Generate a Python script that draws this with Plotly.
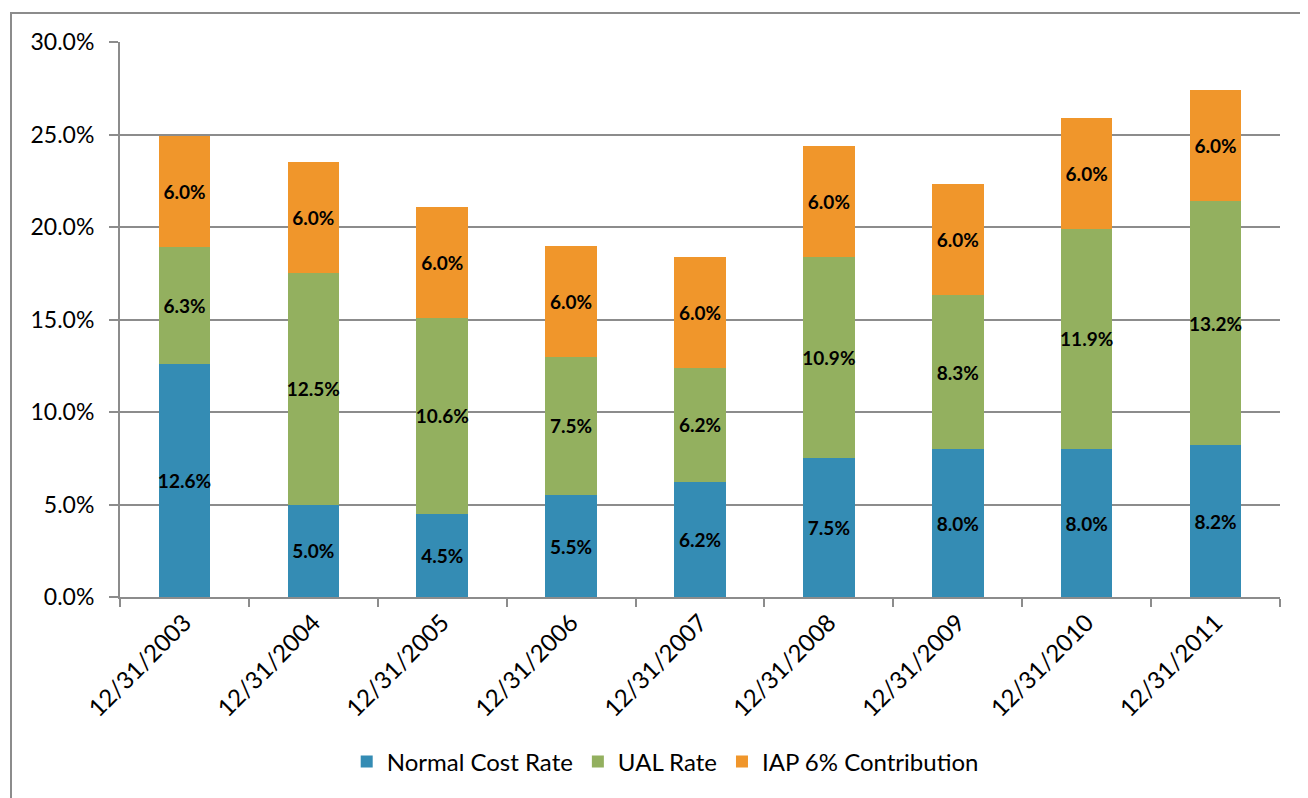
import plotly.graph_objects as go

categories = ["12/31/2003", "12/31/2004", "12/31/2005", "12/31/2006", "12/31/2007",
              "12/31/2008", "12/31/2009", "12/31/2010", "12/31/2011"]
normal_cost = [12.6, 5.0, 4.5, 5.5, 6.2, 7.5, 8.0, 8.0, 8.2]
ual_rate = [6.3, 12.5, 10.6, 7.5, 6.2, 10.9, 8.3, 11.9, 13.2]
iap_contrib = [6.0, 6.0, 6.0, 6.0, 6.0, 6.0, 6.0, 6.0, 6.0]
y_ticks = [0, 5, 10, 15, 20, 25, 30]

FONT = "Lato, Carlito, Calibri, sans-serif"
GRID = "#8c8c8c"

series = [
    ("Normal Cost Rate", normal_cost, "#348cb4"),
    ("UAL Rate", ual_rate, "#93b05f"),
    ("IAP 6% Contribution", iap_contrib, "#f0962b"),
]

fig = go.Figure()
for name, vals, color in series:
    fig.add_trace(go.Bar(
        x=categories, y=vals, name=name,
        marker=dict(color=color, line=dict(width=0)),
        texttemplate="<b>%{y:.1f}%</b>",
        textposition="inside", insidetextanchor="middle",
        textangle=0, constraintext="none",
        textfont=dict(family=FONT, size=19, color="black"),
        insidetextfont=dict(family=FONT, size=19, color="black"),
    ))

# page has an 8px body margin, so the figure is placed 8px in from the window edge
fig.update_layout(
    barmode="stack",
    bargap=0.6,
    width=1300, height=790,
    margin=dict(l=112, r=28, t=34, b=201, autoexpand=False),
    paper_bgcolor="white", plot_bgcolor="white",
    font=dict(family=FONT, size=22, color="black"),
    legend=dict(orientation="h", x=0.47, xanchor="center", y=-0.297, yanchor="middle",
                font=dict(family=FONT, size=24), traceorder="normal",
                tracegroupgap=0),
    showlegend=True,
    xaxis=dict(
        automargin=False,
        tickangle=-45, tickson="boundaries", ticks="outside", ticklen=8,
        tickcolor=GRID, tickwidth=2, showline=True, linecolor=GRID, linewidth=2,
        tickfont=dict(family=FONT, size=24), showgrid=False,
    ),
    yaxis=dict(
        automargin=False,
        range=[0, 30], tickvals=y_ticks, ticktext=[f"{v:.1f}%" for v in y_ticks],
        ticks="outside", ticklen=9, tickcolor=GRID, tickwidth=2,
        ticklabelstandoff=10,
        showline=True, linecolor=GRID, linewidth=2,
        showgrid=True, gridcolor=GRID, gridwidth=2,
        tickfont=dict(family=FONT, size=23), zeroline=False,
    ),
    shapes=[dict(type="rect", xref="paper", yref="paper",
                 x0=(3 - 112) / 1160, x1=(1304 - 112) / 1160,
                 y0=(589 - 794) / 555, y1=(589 - 5) / 555,
                 line=dict(color="#8c8c8c", width=2), layer="below")],
)

fig.write_html("out.html")
